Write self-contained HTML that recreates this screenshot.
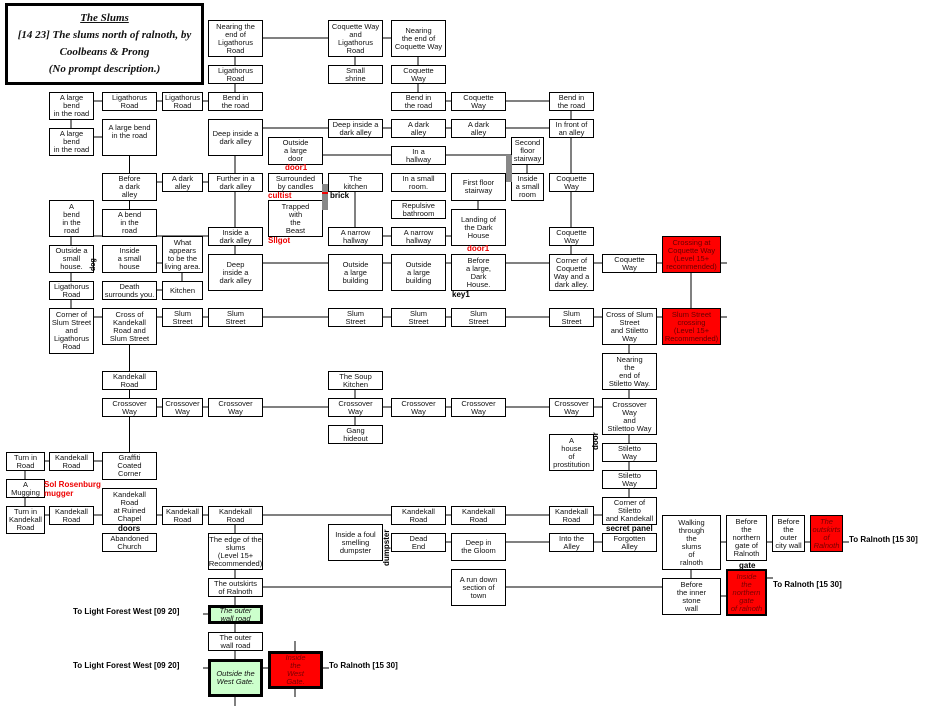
<!DOCTYPE html>
<html><head><meta charset="utf-8">
<style>
body{margin:0;background:#fff;width:939px;height:708px;position:relative;overflow:hidden;font-family:"Liberation Sans",sans-serif}
.b{position:absolute;box-sizing:border-box;border:1px solid #000;background:#fff;display:flex;align-items:center;justify-content:center;text-align:center;font-size:7.5px;line-height:8px;color:#111;overflow:hidden;white-space:nowrap}
.r{background:#f00;color:#600}
.ri{background:#f00;color:#700;font-style:italic}
.g{background:#cfc;font-style:italic;border-width:3px}
.t{border-width:3px}
.l{position:absolute;font-size:8px;font-weight:bold;white-space:nowrap;line-height:9px}
.red{color:#e00}
svg{position:absolute;left:0;top:0}
</style></head><body>
<svg width="939" height="708" stroke="#000" stroke-width="1">
<!-- top -->
<line x1="262" y1="38" x2="328" y2="38"/><line x1="382" y1="38" x2="391" y2="38"/>
<line x1="235" y1="56" x2="235" y2="65"/><line x1="355" y1="56" x2="355" y2="65"/><line x1="418" y1="56" x2="418" y2="65"/>
<line x1="235" y1="83" x2="235" y2="92"/><line x1="418" y1="83" x2="418" y2="92"/>
<line x1="93" y1="101" x2="102" y2="101"/><line x1="157" y1="101" x2="162" y2="101"/><line x1="202" y1="101" x2="208" y2="101"/>
<line x1="445" y1="101" x2="451" y2="101"/><line x1="505" y1="101" x2="549" y2="101"/>
<line x1="71" y1="119" x2="71" y2="128"/><line x1="571" y1="110" x2="571" y2="119"/>
<line x1="93" y1="137" x2="102" y2="137"/>
<line x1="262" y1="128" x2="328" y2="128"/><line x1="382" y1="128" x2="391" y2="128"/><line x1="445" y1="128" x2="451" y2="128"/><line x1="505" y1="128" x2="549" y2="128"/>
<line x1="129.5" y1="155" x2="129.5" y2="173"/><line x1="235" y1="155" x2="235" y2="173"/>
<line x1="322" y1="155" x2="391" y2="155"/><line x1="445" y1="155" x2="511" y2="155"/>
<line x1="527" y1="164" x2="527" y2="173"/>
<line x1="157" y1="182" x2="162" y2="182"/><line x1="202" y1="182" x2="208" y2="182"/>
<line x1="355" y1="191" x2="355" y2="227"/>
<line x1="571" y1="137" x2="571" y2="173"/><line x1="571" y1="191" x2="571" y2="227"/><line x1="571" y1="245" x2="571" y2="254"/>
<line x1="129.5" y1="200" x2="129.5" y2="209"/><line x1="235" y1="191" x2="235" y2="227"/><line x1="235" y1="245" x2="235" y2="254"/>
<line x1="478" y1="200" x2="478" y2="209"/>
<line x1="93" y1="236" x2="102" y2="236"/><line x1="157" y1="236" x2="208" y2="236"/>
<line x1="382" y1="236" x2="391" y2="236"/><line x1="445" y1="236" x2="451" y2="236"/>
<line x1="71" y1="236" x2="71" y2="245"/><line x1="71" y1="272" x2="71" y2="281"/><line x1="71" y1="299" x2="71" y2="308"/>
<line x1="157" y1="263" x2="162" y2="263"/><line x1="182" y1="272" x2="182" y2="281"/>
<line x1="262" y1="263" x2="328" y2="263"/><line x1="382" y1="263" x2="391" y2="263"/><line x1="445" y1="263" x2="451" y2="263"/><line x1="505" y1="263" x2="549" y2="263"/><line x1="593" y1="263" x2="602" y2="263"/><line x1="656" y1="263" x2="662" y2="263"/><line x1="720" y1="263" x2="727" y2="263"/>
<line x1="691" y1="272" x2="691" y2="308"/>
<line x1="157" y1="290" x2="162" y2="290"/>
<!-- slum -->
<line x1="93" y1="317" x2="102" y2="317"/><line x1="157" y1="317" x2="162" y2="317"/><line x1="202" y1="317" x2="208" y2="317"/><line x1="262" y1="317" x2="328" y2="317"/><line x1="382" y1="317" x2="391" y2="317"/><line x1="445" y1="317" x2="451" y2="317"/><line x1="505" y1="317" x2="549" y2="317"/><line x1="593" y1="317" x2="602" y2="317"/><line x1="656" y1="317" x2="662" y2="317"/><line x1="720" y1="317" x2="727" y2="317"/>
<line x1="129.5" y1="344" x2="129.5" y2="371"/><line x1="129.5" y1="389" x2="129.5" y2="398"/>
<line x1="355" y1="389" x2="355" y2="398"/><line x1="355" y1="416" x2="355" y2="425"/>
<line x1="629" y1="344" x2="629" y2="353"/><line x1="629" y1="389" x2="629" y2="398"/><line x1="629" y1="434" x2="629" y2="443"/><line x1="629" y1="461" x2="629" y2="470"/><line x1="629" y1="488" x2="629" y2="497"/>
<line x1="157" y1="407" x2="162" y2="407"/><line x1="202" y1="407" x2="208" y2="407"/><line x1="262" y1="407" x2="328" y2="407"/><line x1="382" y1="407" x2="391" y2="407"/><line x1="445" y1="407" x2="451" y2="407"/><line x1="505" y1="407" x2="549" y2="407"/><line x1="593" y1="407" x2="602" y2="407"/>
<line x1="129.5" y1="416" x2="129.5" y2="452"/>
<line x1="44" y1="461" x2="49" y2="461"/><line x1="93" y1="461" x2="102" y2="461"/>
<line x1="25" y1="470" x2="25" y2="479"/><line x1="25" y1="497" x2="25" y2="506"/>
<line x1="44" y1="515" x2="49" y2="515"/><line x1="93" y1="515" x2="102" y2="515"/><line x1="157" y1="515" x2="162" y2="515"/><line x1="202" y1="515" x2="208" y2="515"/><line x1="262" y1="515" x2="391" y2="515"/><line x1="445" y1="515" x2="451" y2="515"/><line x1="505" y1="515" x2="549" y2="515"/><line x1="593" y1="515" x2="602" y2="515"/>
<line x1="235" y1="524" x2="235" y2="533"/><line x1="235" y1="569" x2="235" y2="578"/><line x1="235" y1="596" x2="235" y2="605"/><line x1="235" y1="623" x2="235" y2="632"/><line x1="235" y1="650" x2="235" y2="659"/><line x1="235" y1="697" x2="235" y2="706"/>
<line x1="445" y1="542" x2="451" y2="542"/><line x1="505" y1="542" x2="549" y2="542"/><line x1="593" y1="542" x2="602" y2="542"/>
<line x1="262" y1="587" x2="451" y2="587"/><line x1="505" y1="587" x2="662" y2="587"/>
<line x1="691" y1="569" x2="691" y2="578"/><line x1="720" y1="596" x2="726" y2="596"/><line x1="766" y1="578" x2="773" y2="578"/>
<line x1="720" y1="542" x2="726" y2="542"/><line x1="766" y1="542" x2="772" y2="542"/><line x1="804" y1="542" x2="810" y2="542"/><line x1="842" y1="542" x2="849" y2="542"/>
<line x1="203" y1="614" x2="208" y2="614"/><line x1="203" y1="668" x2="208" y2="668"/><line x1="262" y1="668" x2="268" y2="668"/><line x1="322" y1="668" x2="329" y2="668"/>
<line x1="295" y1="641" x2="295" y2="651"/><line x1="295" y1="688" x2="295" y2="697"/>
</svg>

<div class="b t" style="left:5px;top:3px;width:199px;height:82px;flex-direction:column;font-family:'Liberation Serif',serif;font-style:italic;font-weight:bold;font-size:11px;line-height:17px;white-space:nowrap"><u>The Slums</u><span>[14 23] The slums north of ralnoth, by</span><span>Coolbeans &amp; Prong</span><span>(No prompt description.)</span></div>

<div class="b" style="left:208px;top:20px;width:55px;height:37px">Nearing the<br>end of<br>Ligathorus<br>Road</div>
<div class="b" style="left:328px;top:20px;width:55px;height:37px">Coquette Way<br>and<br>Ligathorus<br>Road</div>
<div class="b" style="left:391px;top:20px;width:55px;height:37px">Nearing<br>the end of<br>Coquette Way</div>
<div class="b" style="left:208px;top:65px;width:55px;height:19px">Ligathorus<br>Road</div>
<div class="b" style="left:328px;top:65px;width:55px;height:19px">Small<br>shrine</div>
<div class="b" style="left:391px;top:65px;width:55px;height:19px">Coquette<br>Way</div>

<div class="b" style="left:49px;top:92px;width:45px;height:28px">A large<br>bend<br>in the road</div>
<div class="b" style="left:102px;top:92px;width:55px;height:19px">Ligathorus<br>Road</div>
<div class="b" style="left:162px;top:92px;width:41px;height:19px">Ligathorus<br>Road</div>
<div class="b" style="left:208px;top:92px;width:55px;height:19px">Bend in<br>the road</div>
<div class="b" style="left:391px;top:92px;width:55px;height:19px">Bend in<br>the road</div>
<div class="b" style="left:451px;top:92px;width:55px;height:19px">Coquette<br>Way</div>
<div class="b" style="left:549px;top:92px;width:45px;height:19px">Bend in<br>the road</div>

<div class="b" style="left:49px;top:128px;width:45px;height:28px">A large<br>bend<br>in the road</div>
<div class="b" style="left:102px;top:119px;width:55px;height:37px;align-items:flex-start;padding-top:4px">A large bend<br>in the road</div>
<div class="b" style="left:208px;top:119px;width:55px;height:37px">Deep inside a<br>dark alley</div>
<div class="b" style="left:328px;top:119px;width:55px;height:19px">Deep inside a<br>dark alley</div>
<div class="b" style="left:391px;top:119px;width:55px;height:19px">A dark<br>alley</div>
<div class="b" style="left:451px;top:119px;width:55px;height:19px">A dark<br>alley</div>
<div class="b" style="left:549px;top:119px;width:45px;height:19px">In front of<br>an alley</div>

<div class="b" style="left:268px;top:137px;width:55px;height:28px">Outside<br>a large<br>door</div>
<div class="b" style="left:391px;top:146px;width:55px;height:19px">In a<br>hallway</div>
<div class="b" style="left:511px;top:137px;width:33px;height:28px">Second<br>floor<br>stairway</div>

<div class="b" style="left:102px;top:173px;width:55px;height:28px">Before<br>a dark<br>alley</div>
<div class="b" style="left:162px;top:173px;width:41px;height:19px">A dark<br>alley</div>
<div class="b" style="left:208px;top:173px;width:55px;height:19px">Further in a<br>dark alley</div>
<div class="b" style="left:268px;top:173px;width:55px;height:19px">Surrounded<br>by candles</div>
<div class="b" style="left:328px;top:173px;width:55px;height:19px">The<br>kitchen</div>
<div class="b" style="left:391px;top:173px;width:55px;height:19px">In a small<br>room.</div>
<div class="b" style="left:451px;top:173px;width:55px;height:28px">First floor<br>stairway</div>
<div class="b" style="left:511px;top:173px;width:33px;height:28px">Inside<br>a small<br>room</div>
<div class="b" style="left:549px;top:173px;width:45px;height:19px">Coquette<br>Way</div>

<div class="b" style="left:49px;top:200px;width:45px;height:37px">A<br>bend<br>in the<br>road</div>
<div class="b" style="left:102px;top:209px;width:55px;height:28px">A bend<br>in the<br>road</div>
<div class="b" style="left:268px;top:200px;width:55px;height:37px">Trapped<br>with<br>the<br>Beast</div>
<div class="b" style="left:391px;top:200px;width:55px;height:19px">Repulsive<br>bathroom</div>
<div class="b" style="left:451px;top:209px;width:55px;height:37px">Landing of<br>the Dark<br>House</div>

<div class="b" style="left:208px;top:227px;width:55px;height:19px">Inside a<br>dark alley</div>
<div class="b" style="left:328px;top:227px;width:55px;height:19px">A narrow<br>hallway</div>
<div class="b" style="left:391px;top:227px;width:55px;height:19px">A narrow<br>hallway</div>
<div class="b" style="left:549px;top:227px;width:45px;height:19px">Coquette<br>Way</div>
<div class="b" style="left:162px;top:236px;width:41px;height:37px">What<br>appears<br>to be the<br>living area.</div>
<div class="b r" style="left:662px;top:236px;width:59px;height:37px">Crossing at<br>Coquette Way<br>(Level 15+<br>recommended)</div>

<div class="b" style="left:49px;top:245px;width:45px;height:28px">Outside a<br>small<br>house.</div>
<div class="b" style="left:102px;top:245px;width:55px;height:28px">Inside<br>a small<br>house</div>
<div class="b" style="left:208px;top:254px;width:55px;height:37px">Deep<br>inside a<br>dark alley</div>
<div class="b" style="left:328px;top:254px;width:55px;height:37px">Outside<br>a large<br>building</div>
<div class="b" style="left:391px;top:254px;width:55px;height:37px">Outside<br>a large<br>building</div>
<div class="b" style="left:451px;top:254px;width:55px;height:37px">Before<br>a large,<br>Dark<br>House.</div>
<div class="b" style="left:549px;top:254px;width:45px;height:37px">Corner of<br>Coquette<br>Way and a<br>dark alley.</div>
<div class="b" style="left:602px;top:254px;width:55px;height:19px">Coquette<br>Way</div>

<div class="b" style="left:49px;top:281px;width:45px;height:19px">Ligathorus<br>Road</div>
<div class="b" style="left:102px;top:281px;width:55px;height:19px">Death<br>surrounds you.</div>
<div class="b" style="left:162px;top:281px;width:41px;height:19px">Kitchen</div>

<div class="b" style="left:49px;top:308px;width:45px;height:46px">Corner of<br>Slum Street<br>and<br>Ligathorus<br>Road</div>
<div class="b" style="left:102px;top:308px;width:55px;height:37px">Cross of<br>Kandekall<br>Road and<br>Slum Street</div>
<div class="b" style="left:162px;top:308px;width:41px;height:19px">Slum<br>Street</div>
<div class="b" style="left:208px;top:308px;width:55px;height:19px">Slum<br>Street</div>
<div class="b" style="left:328px;top:308px;width:55px;height:19px">Slum<br>Street</div>
<div class="b" style="left:391px;top:308px;width:55px;height:19px">Slum<br>Street</div>
<div class="b" style="left:451px;top:308px;width:55px;height:19px">Slum<br>Street</div>
<div class="b" style="left:549px;top:308px;width:45px;height:19px">Slum<br>Street</div>
<div class="b" style="left:602px;top:308px;width:55px;height:37px">Cross of Slum<br>Street<br>and Stiletto<br>Way</div>
<div class="b r" style="left:662px;top:308px;width:59px;height:37px">Slum Street<br>crossing<br>(Level 15+<br>Recommended)</div>

<div class="b" style="left:602px;top:353px;width:55px;height:37px">Nearing<br>the<br>end of<br>Stiletto Way.</div>
<div class="b" style="left:102px;top:371px;width:55px;height:19px">Kandekall<br>Road</div>
<div class="b" style="left:328px;top:371px;width:55px;height:19px">The Soup<br>Kitchen</div>

<div class="b" style="left:102px;top:398px;width:55px;height:19px">Crossover<br>Way</div>
<div class="b" style="left:162px;top:398px;width:41px;height:19px">Crossover<br>Way</div>
<div class="b" style="left:208px;top:398px;width:55px;height:19px">Crossover<br>Way</div>
<div class="b" style="left:328px;top:398px;width:55px;height:19px">Crossover<br>Way</div>
<div class="b" style="left:391px;top:398px;width:55px;height:19px">Crossover<br>Way</div>
<div class="b" style="left:451px;top:398px;width:55px;height:19px">Crossover<br>Way</div>
<div class="b" style="left:549px;top:398px;width:45px;height:19px">Crossover<br>Way</div>
<div class="b" style="left:602px;top:398px;width:55px;height:37px">Crossover<br>Way<br>and<br>Stilettoo Way</div>
<div class="b" style="left:328px;top:425px;width:55px;height:19px">Gang<br>hideout</div>

<div class="b" style="left:549px;top:434px;width:45px;height:37px">A<br>house<br>of<br>prostitution</div>
<div class="b" style="left:602px;top:443px;width:55px;height:19px">Stiletto<br>Way</div>
<div class="b" style="left:602px;top:470px;width:55px;height:19px">Stiletto<br>Way</div>

<div class="b" style="left:6px;top:452px;width:39px;height:19px">Turn in<br>Road</div>
<div class="b" style="left:49px;top:452px;width:45px;height:19px">Kandekall<br>Road</div>
<div class="b" style="left:102px;top:452px;width:55px;height:28px">Graffiti<br>Coated<br>Corner</div>
<div class="b" style="left:6px;top:479px;width:39px;height:19px">A<br>Mugging</div>
<div class="b" style="left:102px;top:488px;width:55px;height:37px">Kandekall<br>Road<br>at Ruined<br>Chapel</div>
<div class="b" style="left:602px;top:497px;width:55px;height:28px">Corner of<br>Stiletto<br>and Kandekall</div>

<div class="b" style="left:6px;top:506px;width:39px;height:28px">Turn in<br>Kandekall<br>Road</div>
<div class="b" style="left:49px;top:506px;width:45px;height:19px">Kandekall<br>Road</div>
<div class="b" style="left:162px;top:506px;width:41px;height:19px">Kandekall<br>Road</div>
<div class="b" style="left:208px;top:506px;width:55px;height:19px">Kandekall<br>Road</div>
<div class="b" style="left:391px;top:506px;width:55px;height:19px">Kandekall<br>Road</div>
<div class="b" style="left:451px;top:506px;width:55px;height:19px">Kandekall<br>Road</div>
<div class="b" style="left:549px;top:506px;width:45px;height:19px">Kandekall<br>Road</div>

<div class="b" style="left:662px;top:515px;width:59px;height:55px">Walking<br>through<br>the<br>slums<br>of<br>ralnoth</div>
<div class="b" style="left:726px;top:515px;width:41px;height:46px">Before<br>the<br>northern<br>gate of<br>Ralnoth</div>
<div class="b" style="left:772px;top:515px;width:33px;height:37px">Before<br>the<br>outer<br>city wall</div>
<div class="b ri" style="left:810px;top:515px;width:33px;height:37px">The<br>outskirts<br>of<br>Ralnoth</div>

<div class="b" style="left:328px;top:524px;width:55px;height:37px">Inside a foul<br>smelling<br>dumpster</div>
<div class="b" style="left:102px;top:533px;width:55px;height:19px">Abandoned<br>Church</div>
<div class="b" style="left:208px;top:533px;width:55px;height:37px">The edge of the<br>slums<br>(Level 15+<br>Recommended)</div>
<div class="b" style="left:391px;top:533px;width:55px;height:19px">Dead<br>End</div>
<div class="b" style="left:451px;top:533px;width:55px;height:28px">Deep in<br>the Gloom</div>
<div class="b" style="left:549px;top:533px;width:45px;height:19px">Into the<br>Alley</div>
<div class="b" style="left:602px;top:533px;width:55px;height:19px">Forgotten<br>Alley</div>

<div class="b ri" style="left:726px;top:569px;width:41px;height:47px;border:2px solid #000">Inside<br>the<br>northern<br>gate<br>of ralnoth</div>
<div class="b" style="left:451px;top:569px;width:55px;height:37px">A run down<br>section of<br>town</div>
<div class="b" style="left:208px;top:578px;width:55px;height:19px">The outskirts<br>of Ralnoth</div>
<div class="b" style="left:662px;top:578px;width:59px;height:37px">Before<br>the inner<br>stone<br>wall</div>

<div class="b g" style="left:208px;top:605px;width:55px;height:19px">The outer<br>wall road</div>
<div class="b" style="left:208px;top:632px;width:55px;height:19px">The outer<br>wall road</div>
<div class="b g" style="left:208px;top:659px;width:55px;height:38px">Outside the<br>West Gate.</div>
<div class="b ri t" style="left:268px;top:651px;width:55px;height:38px">Inside<br>the<br>West<br>Gate.</div>

<!-- labels -->
<div class="l red" style="left:285px;top:163px">door1</div>
<div class="l red" style="left:268px;top:191px">cultist</div>
<div class="l" style="left:330px;top:191px">brick</div>
<div class="l red" style="left:268px;top:236px">Sllgot</div>
<div class="l red" style="left:467px;top:244px">door1</div>
<div class="l" style="left:452px;top:290px">key1</div>
<div class="l" style="left:118px;top:524px">doors</div>
<div class="l red" style="left:44px;top:480px">Sol Rosenburg<br>mugger</div>
<div class="l" style="left:606px;top:524px">secret panel</div>
<div class="l" style="left:739px;top:561px">gate</div>
<div class="l" style="left:849px;top:535px">To Ralnoth [15 30]</div>
<div class="l" style="left:773px;top:580px">To Ralnoth [15 30]</div>
<div class="l" style="left:73px;top:607px">To Light Forest West [09 20]</div>
<div class="l" style="left:73px;top:661px">To Light Forest West [09 20]</div>
<div class="l" style="left:329px;top:661px">To Ralnoth [15 30]</div>
<div class="l" style="left:591px;top:450px;transform:rotate(-90deg);transform-origin:left top">door</div>
<div class="l" style="left:382px;top:566px;transform:rotate(-90deg);transform-origin:left top">dumpster</div>
<div class="l" style="left:89px;top:271px;transform:rotate(-90deg);transform-origin:left top;font-size:7px">dog</div>
<div style="position:absolute;left:322px;top:184px;width:6px;height:26px;background:#888"></div>
<div style="position:absolute;left:506px;top:155px;width:6px;height:27px;background:#888"></div>
<div style="position:absolute;left:322px;top:192px;width:6px;height:2px;background:#e00"></div>
</body></html>
